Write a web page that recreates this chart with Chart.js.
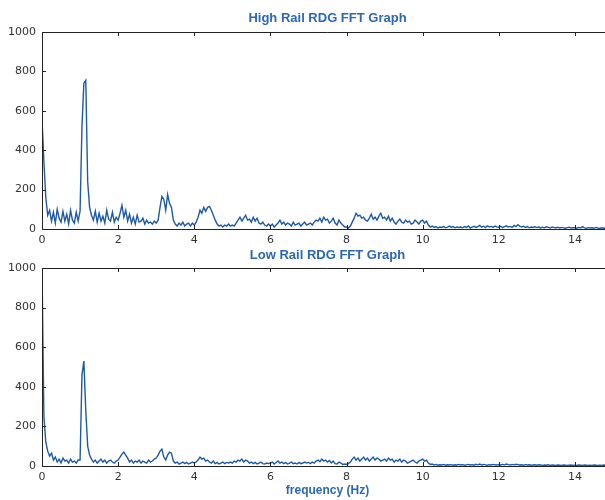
<!DOCTYPE html>
<html>
<head>
<meta charset="utf-8">
<script src="https://cdn.jsdelivr.net/npm/chart.js@4/dist/chart.umd.min.js"></script>
<style>
  html, body { margin: 0; padding: 0; background: #fff; overflow: hidden; }
  #wrap { position: relative; width: 605px; height: 500px; overflow: hidden; }
  #highChart { position: absolute; left: 0; top: 0; }
  #lowChart { position: absolute; left: 0; top: 245px; }
</style>
</head>
<body>
<div id="wrap">
  <canvas id="highChart" width="614" height="245"></canvas>
  <canvas id="lowChart" width="614" height="255"></canvas>
</div>
<script>
// FFT amplitude, one value every 0.05 Hz, one row per Hz
const highRail = [
    560, 340, 160, 70, 95, 40, 85, 30, 100, 55, 35, 90, 40, 75, 25, 95, 45, 30, 85, 40,
    90, 520, 740, 755, 240, 110, 70, 45, 90, 35, 80, 40, 65, 30, 95, 50, 40, 85, 35, 60,
    45, 80, 120, 60, 95, 40, 75, 30, 60, 25, 70, 35, 40, 55, 25, 45, 30, 35, 25, 40,
    30, 45, 110, 165, 150, 95, 175, 130, 110, 45, 25, 15, 30, 20, 35, 15, 25, 30, 15, 30,
    20, 35, 60, 95, 80, 110, 90, 110, 115, 95, 70, 45, 25, 15, 20, 10, 20, 15, 25, 15,
    20, 15, 30, 45, 60, 40, 55, 70, 45, 50, 35, 60, 40, 55, 30, 25, 35, 20, 15, 25,
    15, 25, 10, 20, 30, 45, 25, 35, 20, 30, 25, 15, 35, 20, 25, 30, 15, 25, 35, 20,
    25, 30, 20, 35, 45, 40, 55, 35, 60, 45, 50, 30, 40, 55, 30, 20, 45, 30, 20, 10,
    10, 5, 15, 35, 55, 80, 65, 70, 55, 60, 45, 40, 55, 75, 50, 60, 45, 65, 80, 55,
    60, 45, 65, 40, 55, 35, 25, 40, 50, 35, 30, 45, 35, 40, 25, 30, 45, 35, 25, 40,
    45, 30, 40, 20, 10, 15, 8, 12, 5, 10, 8, 12, 6, 10, 15, 8, 12, 6, 10, 8,
    10, 6, 12, 8, 15, 5, 10, 14, 8, 12, 18, 9, 14, 7, 16, 10, 13, 8, 15, 11,
    9, 14, 7, 12, 16, 10, 13, 8, 18, 12, 22, 15, 10, 14, 8, 12, 6, 10, 8, 11,
    7, 10, 5, 9, 6, 11, 8, 5, 10, 7, 6, 9, 5, 8, 6, 4, 7, 9, 5, 6,
    6, 4, 8, 5, 12, 6, 4, 7, 5, 6, 4, 8, 5, 3, 6, 4, 5, 3, 6, 4,
    4
];

const lowRail = [
    1000, 250, 120, 75, 50, 65, 30, 45, 20, 35, 15, 40, 25, 30, 15, 35, 20, 25, 15, 30,
    30, 460, 530, 280, 100, 55, 35, 20, 30, 15, 25, 35, 20, 30, 15, 25, 30, 20, 15, 25,
    30, 45, 60, 70, 55, 40, 20, 30, 15, 25, 20, 30, 15, 25, 20, 15, 30, 20, 25, 35,
    40, 55, 75, 85, 45, 30, 55, 70, 65, 25, 15, 20, 10, 15, 20, 12, 18, 10, 15, 20,
    15, 20, 30, 45, 35, 40, 25, 30, 20, 15, 25, 12, 18, 10, 15, 20, 12, 18, 15, 20,
    15, 25, 20, 30, 25, 35, 20, 30, 25, 15, 20, 12, 18, 10, 15, 20, 12, 10, 15, 12,
    15, 20, 10, 18, 25, 15, 20, 12, 18, 10, 15, 20, 12, 15, 10, 18, 12, 15, 20, 15,
    18, 12, 20, 15, 25, 30, 22, 35, 25, 30, 20, 28, 15, 25, 12, 10, 20, 15, 8, 10,
    8, 12, 20, 35, 45, 30, 40, 25, 35, 45, 30, 40, 25, 35, 45, 30, 40, 35, 25, 30,
    35, 25, 40, 30, 35, 20, 30, 25, 35, 20, 30, 25, 15, 20, 25, 30, 20, 15, 25, 30,
    35, 25, 30, 15, 8, 10, 5, 8, 4, 6, 5, 8, 4, 6, 5, 7, 4, 6, 5, 8,
    5, 7, 4, 6, 8, 5, 7, 4, 9, 6, 10, 5, 8, 6, 4, 7, 5, 8, 6, 5,
    7, 5, 8, 6, 10, 7, 5, 8, 6, 9, 7, 5, 6, 4, 7, 5, 6, 4, 5, 6,
    4, 6, 5, 3, 5, 4, 6, 3, 5, 4, 3, 5, 4, 3, 5, 4, 3, 4, 5, 3,
    4, 3, 5, 4, 3, 5, 4, 3, 4, 3, 5, 4, 3, 4, 3, 5, 3, 4, 3, 4,
    3
];

const freqStep = 0.05;
const frequencies = highRail.map((v, i) => +(i * freqStep).toFixed(2));

const titles = ['High Rail RDG FFT Graph', 'Low Rail RDG FFT Graph'];
const xLabel = 'frequency (Hz)';

const lineColor = '#1d59a9';
const titleColor = '#2a68b5';
const tickFont = { family: 'DejaVu Sans', size: 11 };

// matplotlib style frame: box plus inward tick marks
const framePlugin = {
    id: 'frame',
    afterDraw(chart) {
        const ctx = chart.ctx;
        const a = chart.chartArea;
        const xs = chart.scales.x;
        const ys = chart.scales.y;
        ctx.save();
        ctx.strokeStyle = '#222';
        ctx.lineWidth = 1;
        ctx.beginPath();
        ctx.moveTo(a.left + 0.5, a.top + 0.5);
        ctx.lineTo(a.right, a.top + 0.5);
        ctx.moveTo(a.left + 0.5, a.top);
        ctx.lineTo(a.left + 0.5, a.bottom + 0.5);
        ctx.lineTo(a.right, a.bottom + 0.5);
        xs.ticks.forEach(t => {
            const px = Math.round(xs.getPixelForValue(t.value)) + 0.5;
            ctx.moveTo(px, a.bottom);
            ctx.lineTo(px, a.bottom - 4);
            ctx.moveTo(px, a.top);
            ctx.lineTo(px, a.top + 4);
        });
        ys.ticks.forEach(t => {
            const py = Math.round(ys.getPixelForValue(t.value)) + 0.5;
            ctx.moveTo(a.left, py);
            ctx.lineTo(a.left + 4, py);
        });
        ctx.stroke();
        ctx.restore();
    }
};

function makeChart(canvasId, title, values, titlePad, xHeight, showXLabel) {
    const points = frequencies.map((f, i) => ({ x: f, y: values[i] }));
    return new Chart(document.getElementById(canvasId), {
        type: 'line',
        data: {
            datasets: [{
                data: points,
                borderColor: lineColor,
                borderWidth: 1.4,
                pointRadius: 0,
                tension: 0,
                fill: false
            }]
        },
        options: {
            responsive: false,
            animation: false,
            layout: { padding: { top: 0, right: 1, bottom: 0, left: 0 } },
            plugins: {
                legend: { display: false },
                tooltip: { enabled: false },
                title: {
                    display: true,
                    text: title,
                    fullSize: false,
                    color: titleColor,
                    font: { family: 'Liberation Sans', size: 13, weight: 'bold', lineHeight: 1.2 },
                    padding: titlePad
                }
            },
            scales: {
                x: {
                    type: 'linear',
                    min: 0,
                    max: 15,
                    grid: { display: false, drawTicks: false },
                    border: { display: false },
                    ticks: {
                        stepSize: 2,
                        includeBounds: false,
                        padding: 5,
                        color: '#333',
                        font: tickFont,
                        maxRotation: 0,
                        callback: v => String(v)
                    },
                    title: {
                        display: showXLabel,
                        text: xLabel,
                        color: titleColor,
                        font: { family: 'Liberation Sans', size: 12, weight: 'bold', lineHeight: 1.2 },
                        padding: { top: 0, bottom: 2 }
                    },
                    afterFit(scale) { scale.height = xHeight; }
                },
                y: {
                    min: 0,
                    max: 1000,
                    grid: { display: false, drawTicks: false },
                    border: { display: false },
                    ticks: {
                        stepSize: 200,
                        padding: 6,
                        color: '#333',
                        font: tickFont,
                        callback: v => String(v)
                    },
                    afterFit(scale) { scale.width = 42; }
                }
            }
        },
        plugins: [framePlugin]
    });
}

const highChart = makeChart('highChart', titles[0], highRail, { top: 11, bottom: 5.4 }, 16, false);
const lowChart = makeChart('lowChart', titles[1], lowRail, { top: 2.2, bottom: 5.2 }, 34, true);
</script>
</body>
</html>
